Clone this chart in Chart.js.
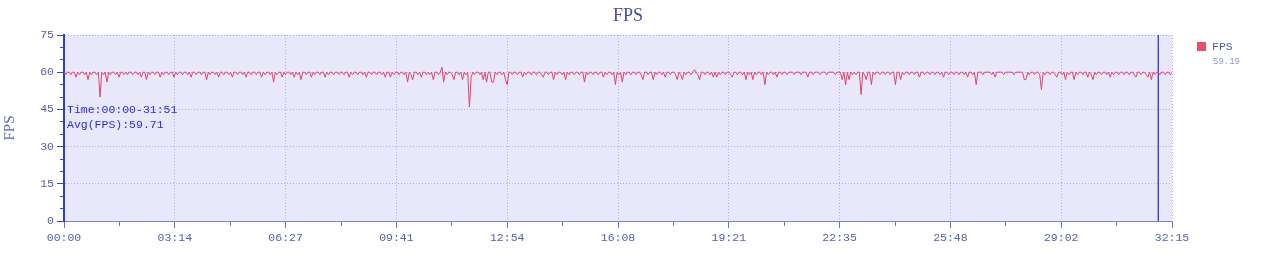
<!DOCTYPE html>
<html>
<head>
<meta charset="utf-8">
<script src="https://cdn.jsdelivr.net/npm/chart.js@4.4.1/dist/chart.umd.min.js"></script>
<style>
  html, body { margin: 0; padding: 0; background: #ffffff; }
  #wrap { position: relative; width: 1263px; height: 253px; overflow: hidden; }
  canvas { position: absolute; left: 0; top: 0; }
  #title { position: absolute; left: 0; width: 1256px; top: 5px; text-align: center;
           font-family: "Liberation Serif", "DejaVu Serif", serif; font-size: 18px; color: #4a4aa6; }
  #note { position: absolute; left: 67px; top: 103px; font-family: "Liberation Mono", "DejaVu Sans Mono", monospace;
          font-size: 11.5px; line-height: 14.5px; color: #2a30d2; white-space: pre; }
  #legend { position: absolute; left: 1197px; top: 40px; font-family: "Liberation Mono", "DejaVu Sans Mono", monospace; }
  #legend .box { position: absolute; left: 0; top: 2px; width: 9px; height: 9px; background: #e8506a; }
  #legend .name { position: absolute; left: 15px; top: 0px; font-size: 11.5px; color: #4e5aa8; white-space: nowrap; }
  #legend .val { position: absolute; left: 16px; top: 17px; font-size: 9px; color: #8e9ad6; white-space: nowrap; }
</style>
</head>
<body>
<div id="wrap">
  <canvas id="c" width="1263" height="253"></canvas>
  <div id="title">FPS</div>
  <div id="note">Time:00:00-31:51
Avg(FPS):59.71</div>
  <div id="legend"><div class="box"></div><div class="name">FPS</div><div class="val">59.19</div></div>
</div>
<script>
// ---- data (one sample every 3 seconds, 00:00 .. 32:15) ----
const sampleStep = 3;
const fpsValues = [
60,59,60,60,59,60,60,58,60,59,60,60,59,60,57,60,59,60,60,59,
60,50,60,59,60,56,60,59,60,60,59,60,58,60,60,59,60,59,60,60,
59,60,60,59,60,58,60,60,57,60,59,60,60,59,60,60,58,60,59,60,
60,59,60,60,58,60,59,60,60,59,60,60,59,60,58,60,60,59,60,60,
59,60,60,57,60,59,60,60,59,60,58,60,60,59,60,60,59,60,58,60,
60,59,60,60,59,60,58,60,60,59,60,60,59,60,60,58,60,59,60,60,
59,60,56,60,59,60,60,58,60,59,60,60,59,60,58,60,59,60,57,60,
60,59,60,60,58,60,59,60,60,59,60,60,58,60,59,60,60,59,60,60,
59,60,60,59,60,60,58,60,59,60,60,59,60,60,59,60,58,60,60,59,
60,60,59,60,60,59,60,58,60,60,58,60,59,60,60,59,60,60,59,60,
56,60,59,57,60,60,59,60,58,60,60,59,60,59,60,57,60,60,59,60,
62,56,60,59,60,60,59,57,60,60,59,60,57,60,59,60,46,58,60,59,
60,60,59,60,57,60,56,60,60,56,56,60,59,60,60,59,60,57,55,60,
60,59,60,60,59,60,60,58,60,59,60,60,59,60,60,59,60,60,59,58,
60,60,59,60,60,57,60,59,60,60,59,60,57,60,59,60,60,59,60,60,
59,60,60,56,60,59,60,60,59,60,60,59,60,60,58,60,59,60,60,59,
60,55,60,59,60,56,60,59,60,60,59,60,60,59,60,60,59,57,60,60,
59,60,60,57,60,59,60,60,59,60,58,60,60,59,60,60,59,57,60,59,
57,60,59,60,60,59,60,61,60,59,57,60,60,59,60,60,59,60,58,60,
58,60,59,60,60,59,60,60,59,58,60,60,59,60,60,59,60,57,60,59,
60,57,60,59,60,60,59,60,55,60,59,60,60,59,60,58,60,60,59,60,
60,59,60,60,60,59,60,60,60,59,60,60,60,58,60,60,59,60,60,60,
59,60,60,60,59,60,60,60,60,59,60,60,60,57,60,55,60,57,60,59,
60,59,60,60,51,60,59,57,60,60,55,60,59,60,60,59,60,60,59,60,
60,59,60,60,55,60,60,57,60,59,60,60,59,60,60,59,60,60,58,60,
60,59,60,60,59,60,60,59,60,60,59,60,58,60,60,59,60,60,59,60,
60,59,60,60,59,60,58,60,60,59,60,55,60,60,60,59,60,60,60,60,
59,60,58,60,60,60,60,59,60,60,60,60,60,59,60,60,60,60,60,57,
57,60,59,60,60,59,60,60,59,53,60,59,60,60,59,60,60,59,58,60,
60,59,60,57,60,59,60,60,57,60,59,60,60,59,60,60,58,60,59,57,
60,59,60,60,59,60,60,59,60,58,60,59,60,60,59,60,60,59,60,60,
59,60,60,59,58,60,60,59,60,60,59,58,60,57,60,59,60,60,59,60,
60,59,60,60,59,60
];
const markerTime = [1911];               // 31:51, end of the measured range
const xMax = 1935;                        // 32:15
const xTickLabels = ['00:00','03:14','06:27','09:41','12:54','16:08','19:21','22:35','25:48','29:02','32:15'];
const yMin = 0, yMax = 75, yStep = 15, yMinorStep = 5;

// ---- build ----
const fpsPoints = fpsValues.map((v, i) => ({ x: i * sampleStep, y: v }));
const markerPoints = [{ x: markerTime[0], y: yMin }, { x: markerTime[0], y: yMax }];
const nMajor = xTickLabels.length - 1;
const xMajorTicks = xTickLabels.map((_, i) => ({ value: i * xMax / nMajor }));
const xMinorTicks = [];
for (let i = 0; i < nMajor; i++) xMinorTicks.push({ value: (i + 0.5) * xMax / nMajor });

const FONT = '"Liberation Mono", "DejaVu Sans Mono", monospace';
const gridColor = '#a9aeea';

const bgPlugin = {
  id: 'plotBg',
  beforeDraw(chart) {
    const a = chart.chartArea, ctx = chart.ctx;
    ctx.save();
    ctx.fillStyle = '#e8e8fa';
    ctx.fillRect(a.left, a.top, a.right - a.left, a.bottom - a.top);
    ctx.restore();
  }
};

new Chart(document.getElementById('c'), {
  type: 'line',
  data: {
    datasets: [
      { label: 'FPS', data: fpsPoints, borderColor: '#e0456c', borderWidth: 1, pointRadius: 0, tension: 0, fill: false },
      { label: 'marker', data: markerPoints, borderColor: '#2424d6', borderWidth: 1.2, pointRadius: 0, fill: false }
    ]
  },
  options: {
    responsive: false,
    animation: false,
    devicePixelRatio: 1,
    layout: { padding: { top: 35, right: 91, bottom: 0, left: 0 } },
    plugins: { legend: { display: false }, title: { display: false }, tooltip: { enabled: false } },
    scales: {
      x: {
        type: 'linear', min: 0, max: xMax, position: 'bottom', weight: 0,
        afterBuildTicks: s => { s.ticks = xMajorTicks.map(t => ({ value: t.value })); },
        afterFit: s => { s.height = 32; },
        ticks: { autoSkip: false, maxRotation: 0, padding: 3, color: '#5562a6',
                 font: { family: FONT, size: 11.5 },
                 callback: (v, i) => xTickLabels[i] },
        grid: { color: gridColor, lineWidth: 1, tickLength: 7, tickColor: '#6a78b8', drawOnChartArea: true },
        border: { display: true, color: '#7a86c6', width: 1, dash: [1, 2] }
      },
      xMinor: {
        type: 'linear', min: 0, max: xMax, position: 'bottom', weight: -1,
        afterBuildTicks: s => { s.ticks = xMinorTicks.map(t => ({ value: t.value })); },
        afterFit: s => { s.height = 0; },
        ticks: { display: false },
        grid: { drawOnChartArea: false, tickLength: 5, tickColor: '#6a78b8' },
        border: { display: false }
      },
      y: {
        type: 'linear', min: yMin, max: yMax, position: 'left', weight: 0,
        afterFit: s => { s.width = 64; },
        ticks: { stepSize: yStep, padding: 3, color: '#5562a6', font: { family: FONT, size: 11.5 } },
        grid: { color: gridColor, lineWidth: 1, tickLength: 7, tickColor: '#3a4cc8' },
        border: { display: true, color: '#2a3cd2', width: 2, dash: [1, 2] },
        title: { display: true, text: 'FPS', color: '#6262b6', padding: { top: 1, bottom: 0 },
                 font: { family: '"Liberation Serif", "DejaVu Serif", serif', size: 15 } }
      },
      yMinor: {
        type: 'linear', min: yMin, max: yMax, position: 'left', weight: -1,
        afterFit: s => { s.width = 0; },
        ticks: { display: false, stepSize: yMinorStep },
        grid: { drawOnChartArea: false, tickLength: 4, tickColor: '#3a4cc8' },
        border: { display: false }
      }
    }
  },
  plugins: [bgPlugin]
});
</script>
</body>
</html>
